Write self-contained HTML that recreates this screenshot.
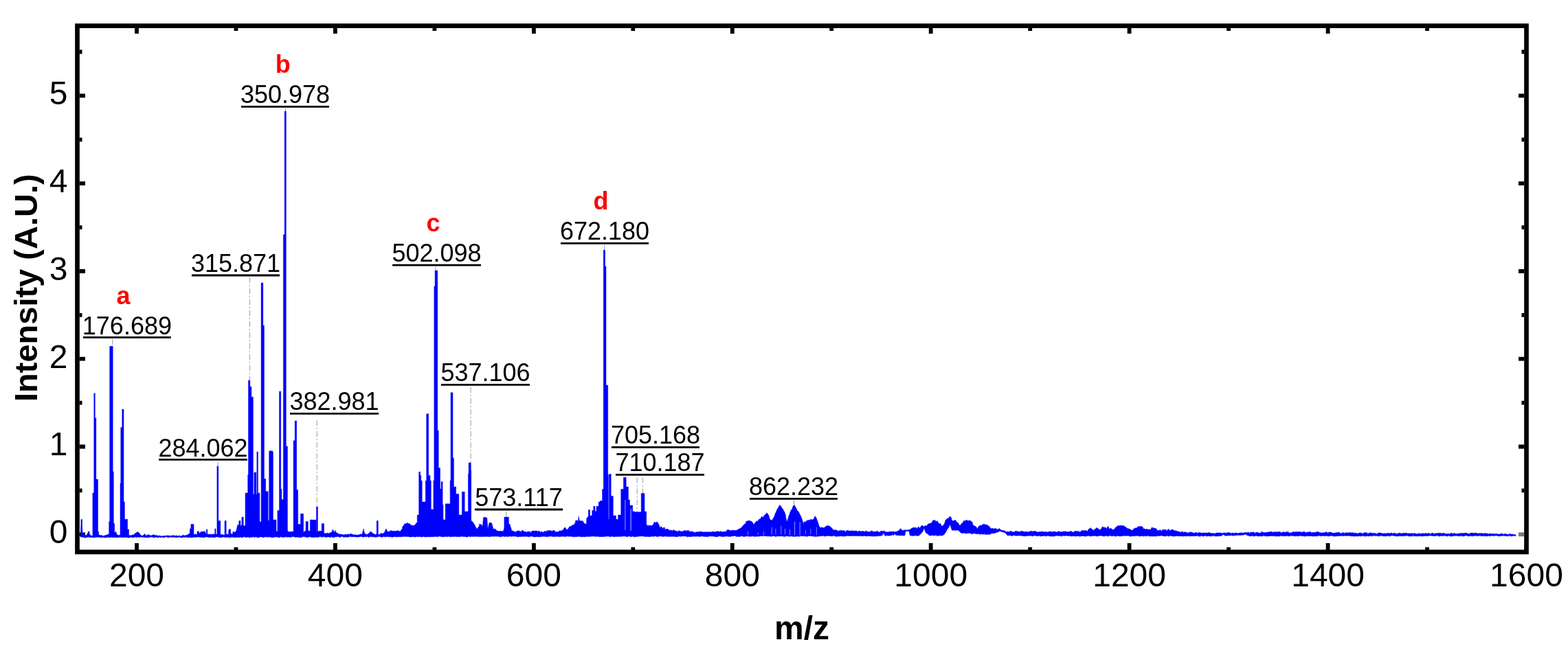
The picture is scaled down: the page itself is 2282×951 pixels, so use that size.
<!DOCTYPE html>
<html><head><meta charset="utf-8"><style>html,body{margin:0;padding:0;background:#fff;overflow:hidden}svg{display:block}text{font-family:"Liberation Sans",sans-serif}</style></head>
<body><svg width="2282" height="951" viewBox="0 0 2282 951">
<rect width="2282" height="951" fill="#fff"/>
<rect x="112.5" y="37.6" width="2109" height="766.3" fill="none" stroke="#000" stroke-width="6.7"/>
<path d="M199.0 801V791M199.0 41V49M343.5 801V797M343.5 41V45M487.9 801V791M487.9 41V49M632.4 801V797M632.4 41V45M776.9 801V791M776.9 41V49M921.3 801V797M921.3 41V45M1065.8 801V791M1065.8 41V49M1210.2 801V797M1210.2 41V45M1354.7 801V791M1354.7 41V49M1499.2 801V797M1499.2 41V45M1643.6 801V791M1643.6 41V49M1788.1 801V797M1788.1 41V45M1932.6 801V791M1932.6 41V49M2077.0 801V797M2077.0 41V45M116 778.3H124M116 714.4H119.5M2218 714.4H2214.5M116 650.5H124M2218 650.5H2210M116 586.6H119.5M2218 586.6H2214.5M116 522.7H124M2218 522.7H2210M116 458.8H119.5M2218 458.8H2214.5M116 395.0H124M2218 395.0H2210M116 331.1H119.5M2218 331.1H2214.5M116 267.2H124M2218 267.2H2210M116 203.3H119.5M2218 203.3H2214.5M116 139.4H124M2218 139.4H2210M116 75.5H119.5M2218 75.5H2214.5" stroke="#000" stroke-width="5.8" fill="none"/>
<path d="M117.5,770.3 117.9,764.9 117.9,756.5 119.6,756.5 119.6,766.7 120.2,777.6 122.5,779.8 123.5,780.0 123.6,779.3 126.0,779.8 127.5,776.4 127.6,777.0 128.2,776.1 128.2,774.0 130.0,774.0 130.0,775.9 131.0,778.9 131.5,779.0 131.6,780.0 134.9,780.3 134.9,718.0 136.8,718.0 136.8,572.7 138.3,572.7 138.3,608.7 139.8,608.7 139.8,698.0 142.5,698.0 142.5,774.0 143.6,774.0 143.6,778.9 149.5,780.0 149.6,780.5 151.5,780.3 151.6,780.0 153.5,779.7 153.6,779.4 155.0,779.1 155.5,778.8 155.6,779.2 156.7,778.5 157.5,778.8 157.6,777.8 158.3,778.1 158.7,778.0 158.7,759.4 159.7,759.4 159.7,504.3 164.2,504.3 164.2,687.0 165.3,687.0 165.3,762.6 166.7,762.6 166.7,775.5 167.5,775.3 167.7,776.0 168.5,774.0 170.4,779.0 171.5,779.0 171.6,779.5 173.5,779.5 173.6,779.2 175.0,779.2 175.0,703.7 175.8,703.7 175.8,622.6 177.8,622.6 177.8,596.1 180.0,596.1 180.0,731.0 181.4,731.0 181.4,756.3 185.6,756.3 185.6,771.0 187.5,771.0 187.5,779.6 191.5,779.8 191.6,779.4 192.0,779.4 193.5,778.5 193.6,779.4 195.5,778.3 195.6,777.4 197.6,776.2 199.5,774.7 199.6,775.6 200.9,774.7 201.5,775.4 201.6,774.9 203.5,777.4 203.6,778.0 204.0,778.5 206.7,780.5 209.5,779.1 209.6,778.2 210.9,777.5 211.5,778.2 211.6,778.8 213.0,780.3 215.5,778.5 215.6,778.8 216.1,778.5 217.5,779.6 217.6,779.0 219.0,780.1 221.5,779.8 221.6,779.2 223.5,778.7 223.6,779.1 224.5,778.9 227.5,779.9 227.6,779.7 229.5,779.8 229.6,780.6 231.5,780.4 231.6,779.9 233.5,780.1 233.6,780.8 234.6,781.0 235.5,781.0 235.6,780.4 237.6,780.6 239.5,780.4 239.6,780.2 243.5,780.2 243.6,779.7 245.5,779.9 245.6,780.3 247.5,780.5 247.6,780.2 251.5,780.1 251.6,779.8 253.5,779.6 253.5,780.6 255.5,780.7 255.6,779.8 257.5,780.0 257.6,780.6 259.5,780.8 259.6,780.1 261.5,780.1 261.6,780.7 263.5,780.7 263.6,780.4 265.5,780.2 265.6,779.6 267.5,779.3 267.6,780.1 270.0,779.8 273.5,778.8 273.6,778.3 275.5,777.3 275.6,776.7 276.4,776.6 276.4,770.0 277.9,770.0 277.9,763.6 282.0,763.6 282.0,778.2 283.5,778.4 283.6,777.9 285.5,777.9 285.6,778.8 286.9,778.7 286.9,774.0 289.7,774.0 289.8,777.2 291.5,775.6 291.6,775.2 292.5,774.3 295.5,774.3 295.6,774.0 297.5,774.0 297.6,773.7 298.0,773.7 299.5,776.9 299.5,778.0 300.2,778.1 300.2,771.0 301.8,771.0 301.8,777.9 305.5,778.2 305.6,777.9 307.5,778.0 307.6,778.6 309.5,778.7 309.6,777.8 311.5,777.9 311.6,778.3 312.7,778.3 312.7,770.0 314.0,770.0 314.0,777.9 315.9,777.9 315.9,678.9 317.8,678.9 317.8,758.4 320.8,758.4 320.8,778.5 321.5,778.5 321.6,778.2 323.5,778.5 325.5,778.9 325.6,779.3 327.0,779.3 327.0,758.4 329.2,758.4 329.2,778.1 329.5,778.1 329.6,778.3 330.5,778.1 332.5,778.2 332.9,771.4 333.5,771.4 333.6,770.7 335.5,770.7 335.9,777.5 337.5,777.5 337.6,777.9 338.5,777.9 339.0,774.2 339.5,774.2 339.6,774.5 340.8,774.5 341.5,776.6 341.5,775.4 343.5,773.4 343.6,774.3 345.2,767.0 345.5,767.0 345.5,764.7 347.5,764.3 347.5,766.1 347.8,766.1 347.8,758.4 350.0,758.4 350.0,765.8 351.5,765.7 351.5,764.1 351.9,764.1 351.9,753.1 354.2,753.1 354.2,765.3 355.5,765.5 355.6,765.7 357.0,765.7 357.0,718.0 360.7,718.0 360.7,691.5 361.5,691.5 361.5,553.9 363.8,553.9 363.8,563.1 365.9,563.1 365.9,578.2 368.4,578.2 368.4,720.0 369.9,720.0 369.9,688.0 372.8,688.0 372.9,768.4 372.9,720.0 373.9,720.0 373.9,658.0 375.4,658.0 375.4,718.0 377.9,718.0 377.9,760.0 380.1,760.0 380.1,412.0 382.8,412.0 382.8,474.0 384.4,474.0 384.4,697.3 386.7,697.3 386.7,715.8 390.2,715.8 390.2,758.0 391.6,758.0 391.7,771.9 391.7,656.8 396.6,656.8 396.6,658.0 397.4,658.0 397.4,757.0 402.0,757.0 402.0,773.5 403.5,773.8 403.6,774.6 403.9,774.7 403.9,743.6 406.5,743.6 406.5,570.0 408.7,570.0 408.7,712.3 409.9,712.3 409.9,727.4 412.4,727.4 412.4,341.8 414.2,341.8 414.2,162.0 416.3,162.0 416.3,649.9 418.4,649.9 418.4,773.6 419.5,773.6 419.6,774.6 427.1,774.2 427.1,641.8 429.2,641.8 429.2,612.9 431.7,612.9 431.7,713.5 433.6,713.5 433.6,763.6 437.3,763.6 437.3,773.2 437.5,773.2 437.5,748.2 441.6,748.2 441.6,774.6 443.5,774.6 443.5,773.3 445.1,773.3 445.1,759.4 448.3,759.4 448.3,773.0 451.4,773.2 451.4,757.0 460.0,757.3 460.0,774.0 460.5,774.0 460.5,737.9 462.4,737.9 462.4,774.2 463.5,774.2 463.6,773.4 465.5,773.4 465.6,773.2 467.5,773.2 467.6,773.8 468.2,774.0 468.2,762.6 471.5,762.6 471.5,776.5 473.5,776.8 475.5,777.1 475.6,776.2 477.0,776.4 477.5,776.2 477.6,777.3 483.0,774.7 484.5,771.1 485.5,772.8 485.6,773.7 486.2,774.7 487.5,773.8 487.6,772.3 489.3,775.3 492.5,777.4 493.5,777.5 493.6,777.8 499.5,778.6 499.6,779.0 500.0,779.1 501.5,778.9 501.6,778.3 503.5,778.1 503.6,778.8 505.5,778.6 505.6,778.0 507.5,777.8 507.6,778.5 509.5,778.3 509.6,777.4 510.0,777.4 511.5,777.5 511.6,777.9 513.5,778.1 513.6,778.9 515.5,779.1 515.6,778.6 517.5,778.8 517.6,779.1 519.5,779.3 519.6,779.2 523.5,778.6 523.6,778.1 525.5,777.8 525.6,778.3 527.0,778.1 527.5,776.6 527.5,775.5 529.3,770.0 529.5,770.8 529.5,772.7 531.0,777.4 531.5,777.5 531.6,777.8 535.5,778.4 535.5,777.3 536.0,777.4 537.5,775.7 537.6,776.1 539.8,773.7 541.5,776.0 541.6,775.9 542.0,776.4 543.5,776.8 543.6,777.6 545.5,778.0 546.0,778.4 547.5,778.4 547.6,777.8 548.2,777.8 548.2,758.4 550.3,758.4 550.3,778.5 551.0,778.5 553.5,777.9 553.6,777.0 555.5,776.6 555.6,777.5 559.5,775.9 559.5,774.7 560.0,774.5 561.5,770.6 561.6,771.2 562.0,770.2 564.0,774.2 566.0,774.2 567.5,773.8 567.6,772.9 569.5,772.4 569.5,773.4 573.5,773.3 573.6,773.6 577.5,773.6 577.6,772.7 579.5,772.7 579.6,773.4 581.5,773.4 581.6,773.7 582.6,773.7 585.5,769.7 585.5,767.8 589.5,762.1 589.6,763.5 590.0,763.0 591.5,762.8 591.5,761.8 593.5,761.6 593.6,762.4 595.5,762.2 595.6,763.1 596.3,763.1 597.5,764.7 597.6,763.5 599.0,765.4 599.5,765.4 599.6,765.1 601.5,765.1 601.6,765.6 602.6,765.6 603.5,764.4 603.6,764.8 605.0,763.0 605.5,763.0 605.5,761.6 607.2,761.6 607.2,750.0 609.7,750.0 609.7,687.2 611.6,687.2 611.6,692.4 612.7,692.4 612.7,700.0 614.2,700.0 614.2,731.0 619.3,731.0 619.3,700.0 620.7,700.0 620.7,602.7 623.7,602.7 623.7,692.4 626.0,692.4 626.0,700.0 627.3,700.0 627.3,742.0 630.9,742.0 630.9,700.0 631.9,700.0 631.9,417.0 633.1,417.0 633.1,394.1 636.8,394.1 636.8,627.0 638.2,627.0 638.2,681.4 640.5,681.4 640.5,712.0 642.1,712.0 642.1,701.6 644.1,701.6 644.1,735.0 645.0,735.0 645.0,757.0 648.2,757.0 648.2,733.8 655.1,733.8 655.1,700.0 656.0,700.0 656.0,571.8 659.0,571.8 659.0,667.0 660.4,667.0 660.4,709.0 663.6,709.0 663.6,719.4 667.8,719.4 667.8,750.0 672.4,750.0 672.4,716.3 676.2,716.3 676.2,745.0 681.4,745.0 681.4,690.0 682.1,690.0 682.1,673.9 685.3,673.9 685.3,684.9 685.7,684.9 685.7,757.8 687.5,760.5 687.6,759.4 691.5,765.6 691.6,766.4 693.5,769.2 693.6,769.9 694.1,770.6 697.5,765.7 697.5,763.7 698.0,763.1 701.5,764.6 701.5,766.1 702.5,766.4 703.5,753.4 707.5,753.6 707.6,754.3 708.8,754.3 709.9,771.0 712.0,761.3 715.1,761.2 715.5,762.5 715.6,761.9 718.0,770.3 719.5,771.0 719.6,770.0 721.5,770.8 721.5,772.1 725.0,773.5 727.5,773.8 727.6,773.3 732.0,773.9 733.5,770.8 733.5,769.8 733.9,769.1 733.9,753.1 740.4,753.1 740.4,763.6 742.5,763.6 742.5,765.4 745.0,773.4 745.5,773.5 745.6,772.9 747.5,773.3 747.6,774.1 750.0,774.8 751.5,774.6 751.6,773.6 753.5,773.4 753.6,773.0 755.5,772.8 755.5,773.9 757.5,773.7 757.6,774.2 759.5,774.0 759.5,772.4 760.0,772.3 761.5,772.6 761.5,773.7 767.5,775.2 767.5,773.9 770.0,774.3 771.5,774.0 771.6,775.5 773.5,775.2 773.5,773.6 777.5,772.9 777.6,773.6 779.5,773.2 779.6,773.0 780.0,772.9 781.5,773.2 781.6,773.8 783.5,774.2 783.5,773.2 785.5,773.5 785.5,774.9 787.5,775.2 787.5,774.0 789.5,774.4 789.6,775.4 790.0,775.5 791.5,775.2 791.5,773.9 793.5,773.5 793.6,774.2 795.5,773.9 795.6,773.0 797.5,772.6 797.6,773.1 800.0,772.6 801.5,772.6 801.6,773.4 803.5,773.4 803.6,772.9 805.5,773.0 805.6,772.3 807.5,772.7 807.5,774.4 809.5,774.8 809.6,774.6 813.5,774.4 813.5,773.1 817.5,772.9 817.6,772.6 818.7,772.5 822.0,767.9 823.5,769.1 823.5,770.2 825.5,771.6 825.6,770.9 826.0,771.2 829.5,766.0 829.6,767.5 830.0,766.9 831.5,766.5 831.6,765.6 833.5,765.1 833.6,764.4 835.5,763.9 835.6,764.9 837.5,760.1 837.5,758.8 838.0,757.8 839.5,757.8 839.6,758.5 841.5,758.5 841.5,757.2 842.3,752.1 843.2,757.9 843.5,757.9 843.6,758.4 845.5,758.4 845.6,758.7 847.5,758.7 847.6,758.5 848.1,758.5 850.0,762.3 851.5,762.3 851.6,763.3 853.4,763.3 853.9,754.0 855.5,754.0 855.5,752.3 856.4,752.3 856.4,742.6 858.6,742.6 858.6,751.0 861.7,751.0 861.7,743.6 863.8,743.6 863.8,737.3 866.0,737.3 866.0,744.7 868.0,744.7 868.0,737.3 871.2,737.3 871.2,731.0 873.5,731.0 873.5,729.3 875.7,729.3 875.8,730.0 876.6,730.0 876.6,712.5 878.3,712.5 878.3,364.2 880.6,364.2 880.6,388.0 882.0,388.0 882.0,561.0 884.7,561.0 884.7,691.4 885.4,691.4 885.6,756.1 886.5,756.2 886.5,690.4 889.2,690.4 889.2,722.6 892.3,722.6 892.3,751.0 896.5,751.0 896.5,756.3 899.6,756.3 899.6,750.0 903.8,750.0 903.8,712.5 907.4,712.5 907.4,695.3 911.2,695.3 911.2,709.0 914.4,709.0 914.4,727.9 916.5,727.9 916.5,736.0 920.7,736.0 920.7,745.0 923.8,745.0 923.9,745.7 933.2,745.7 933.2,718.4 938.0,718.4 938.0,745.0 940.7,745.0 940.7,764.0 941.5,764.3 941.6,765.1 943.5,766.0 943.5,764.9 945.0,765.5 947.5,765.1 947.6,765.7 949.1,765.5 949.5,764.9 949.6,765.1 951.5,762.5 951.5,761.2 952.0,760.6 953.5,760.4 953.6,761.2 955.5,761.0 955.6,759.9 957.5,761.0 957.6,761.9 958.0,762.1 960.7,768.4 961.5,768.7 961.6,767.0 963.5,767.5 963.5,769.2 965.0,769.5 965.5,769.7 965.5,768.0 967.5,768.5 967.5,770.7 969.5,771.2 969.6,770.1 973.5,771.3 973.6,772.0 975.0,772.4 975.5,772.5 975.6,772.1 977.5,772.3 977.6,772.8 979.5,773.0 979.5,771.7 981.5,771.9 981.6,772.9 985.5,773.4 985.6,774.1 987.5,774.4 987.5,772.8 989.5,773.1 989.6,773.9 991.5,773.8 991.6,774.1 995.5,773.5 995.6,772.6 997.5,772.4 997.6,773.4 999.5,773.2 999.6,772.5 1000.0,772.5 1003.5,773.1 1003.5,774.4 1005.5,774.8 1005.6,773.6 1007.5,774.0 1007.6,774.4 1009.5,774.8 1009.6,775.3 1010.0,775.4 1015.5,774.5 1015.6,775.0 1017.5,774.8 1017.6,774.2 1019.5,774.0 1019.6,774.3 1021.5,774.4 1021.6,774.7 1023.5,774.9 1023.6,774.7 1027.5,775.0 1027.6,774.6 1029.5,774.8 1029.6,775.1 1030.0,775.1 1033.5,774.6 1033.6,775.2 1035.5,775.1 1035.6,774.4 1037.5,774.3 1039.5,774.3 1039.6,774.8 1041.5,774.7 1041.6,774.2 1043.5,774.1 1043.6,773.8 1045.0,773.7 1045.5,773.7 1045.6,774.6 1047.5,774.6 1047.6,773.8 1049.5,773.8 1049.6,774.7 1053.5,774.6 1053.6,774.0 1055.5,774.0 1055.6,774.5 1055.8,774.5 1057.5,773.7 1057.5,772.3 1059.5,771.3 1059.6,772.0 1060.0,771.8 1061.5,771.8 1061.6,772.7 1063.5,772.7 1063.6,772.2 1071.5,772.4 1073.5,771.6 1073.6,771.2 1075.5,770.6 1075.6,770.0 1077.5,769.4 1077.6,769.6 1077.9,769.5 1083.5,762.9 1083.6,764.1 1085.5,761.6 1085.5,760.0 1086.3,759.0 1087.5,758.8 1087.6,759.0 1090.0,758.2 1091.5,758.3 1091.6,758.8 1093.5,759.0 1093.6,759.9 1094.7,760.0 1097.3,764.5 1097.5,764.3 1097.5,763.0 1101.0,758.8 1101.5,758.4 1101.6,759.8 1103.5,758.3 1103.5,757.3 1105.5,755.8 1105.6,756.2 1107.5,754.8 1107.5,753.3 1109.5,752.0 1109.5,753.9 1111.5,752.6 1111.5,751.2 1112.6,750.6 1113.5,749.5 1113.6,749.8 1115.5,747.5 1115.7,746.6 1117.5,748.4 1117.6,749.0 1118.4,749.8 1119.5,752.5 1119.5,753.7 1121.0,757.1 1123.5,757.9 1123.6,757.1 1124.1,757.2 1125.5,754.2 1125.6,754.7 1127.5,750.5 1127.6,749.5 1131.5,740.8 1131.6,741.0 1133.5,738.1 1133.6,737.1 1134.7,735.6 1137.5,738.2 1137.5,739.2 1139.9,742.1 1141.5,746.4 1141.6,745.0 1143.5,750.7 1143.5,752.8 1145.2,760.0 1147.5,753.4 1147.5,752.3 1149.5,748.0 1149.5,746.8 1151.5,742.5 1151.6,743.8 1153.5,739.6 1153.5,738.3 1154.0,737.4 1155.5,735.5 1155.6,736.3 1156.2,735.5 1157.5,738.3 1157.6,737.9 1159.5,741.5 1159.9,742.9 1161.5,745.2 1161.6,744.4 1163.5,747.4 1163.6,748.1 1166.2,753.2 1169.4,762.9 1169.5,761.6 1171.5,759.0 1171.6,760.7 1172.0,760.1 1173.5,759.9 1173.5,758.2 1179.5,757.0 1179.6,756.5 1180.0,756.5 1181.5,756.4 1181.6,757.2 1183.0,757.1 1183.5,756.0 1183.6,756.7 1186.2,751.5 1187.5,754.4 1187.5,753.4 1188.0,754.3 1189.6,758.4 1192.5,767.4 1193.5,767.4 1193.5,768.5 1195.5,768.6 1195.6,767.9 1197.5,767.9 1197.5,768.9 1199.5,768.8 1199.6,768.2 1199.9,768.2 1202.0,766.3 1203.5,765.7 1203.6,766.1 1205.6,765.3 1207.5,767.1 1207.6,766.3 1209.6,768.0 1211.5,770.0 1211.6,770.5 1212.5,771.4 1215.5,772.2 1215.6,771.5 1217.5,772.0 1217.6,772.6 1219.5,772.9 1219.6,773.3 1221.5,773.4 1221.6,772.4 1229.5,772.9 1229.5,774.2 1231.5,774.3 1231.6,772.5 1233.5,772.6 1233.6,772.9 1237.5,773.0 1237.6,773.6 1239.5,773.6 1239.6,772.8 1241.5,772.8 1241.6,773.6 1243.5,773.6 1243.6,773.1 1247.5,773.3 1247.6,774.3 1249.5,774.3 1249.5,773.2 1251.5,773.2 1251.6,774.0 1253.5,774.0 1253.6,773.6 1257.5,773.7 1257.6,774.4 1259.5,774.4 1259.5,773.2 1261.5,773.2 1261.5,774.6 1265.5,774.6 1265.6,774.2 1267.5,774.2 1267.5,773.1 1269.5,773.1 1269.5,774.2 1273.5,774.1 1273.6,774.4 1275.5,774.5 1275.5,773.5 1277.5,773.5 1277.5,774.8 1279.5,774.8 1281.5,774.7 1281.5,773.3 1283.5,773.3 1283.6,773.7 1285.5,773.7 1285.6,773.2 1287.5,773.2 1287.5,774.6 1293.5,774.9 1293.6,774.2 1299.5,774.3 1299.6,774.1 1301.5,774.1 1301.6,774.8 1303.5,774.8 1303.6,774.2 1305.5,774.2 1305.6,773.7 1306.3,773.7 1307.5,772.7 1307.6,773.0 1309.5,771.4 1309.5,770.3 1310.0,770.0 1311.5,770.3 1311.5,771.8 1314.7,772.4 1315.5,772.4 1315.6,771.8 1317.5,771.8 1317.6,772.7 1317.8,772.7 1318.0,771.9 1323.5,771.7 1323.6,771.1 1324.2,771.1 1329.4,768.1 1329.6,768.4 1331.5,768.2 1331.6,768.5 1333.5,768.3 1333.6,769.4 1335.5,769.2 1335.5,767.7 1337.5,767.4 1337.5,768.9 1338.9,768.8 1339.5,768.0 1339.6,767.4 1341.5,765.1 1341.6,765.4 1342.0,764.9 1343.5,766.7 1343.6,765.7 1345.2,767.6 1345.5,767.3 1345.5,766.3 1347.5,764.9 1347.5,766.7 1349.5,765.3 1349.5,764.0 1351.5,763.0 1351.6,762.7 1353.5,761.8 1353.6,763.3 1357.5,759.1 1357.5,757.9 1357.8,757.7 1361.5,757.8 1361.5,759.5 1363.1,759.5 1363.5,759.9 1363.6,758.3 1365.5,760.2 1365.5,761.4 1367.3,763.1 1367.5,763.2 1367.6,761.9 1369.5,763.5 1369.5,765.2 1371.5,766.7 1371.5,765.1 1372.6,765.9 1373.5,763.7 1373.6,764.5 1375.5,759.9 1375.5,758.5 1377.5,755.8 1377.6,756.9 1379.5,754.3 1379.6,754.8 1379.9,754.4 1381.5,754.4 1381.5,752.6 1383.5,752.6 1383.6,753.1 1384.1,753.1 1385.2,757.3 1385.5,757.3 1385.5,758.4 1387.5,758.4 1387.6,758.1 1389.5,758.1 1389.6,757.4 1390.4,757.4 1391.5,758.5 1391.6,759.3 1393.5,761.2 1393.6,760.9 1395.5,762.8 1395.5,763.9 1397.5,765.8 1397.5,764.5 1397.8,764.7 1399.5,762.3 1399.6,763.3 1403.0,758.1 1403.5,758.1 1403.6,758.4 1405.5,758.4 1405.6,757.5 1407.5,757.5 1407.6,758.3 1411.5,758.3 1411.6,757.6 1413.5,759.8 1413.6,759.1 1415.5,761.2 1415.5,763.6 1417.5,765.7 1417.6,765.2 1419.5,767.2 1419.6,766.1 1421.5,768.2 1421.5,769.5 1422.0,769.9 1423.5,768.6 1423.5,767.4 1425.5,765.7 1425.6,766.1 1427.5,764.5 1427.6,765.5 1429.5,765.0 1429.5,763.9 1431.5,763.5 1431.6,763.2 1435.5,764.4 1435.6,763.9 1437.5,764.9 1437.6,765.3 1439.9,766.8 1442.0,769.8 1445.5,769.4 1445.6,770.3 1447.5,770.2 1447.6,769.6 1449.5,769.5 1449.5,770.7 1451.5,770.6 1451.6,771.0 1453.5,771.0 1453.6,769.5 1455.5,770.5 1455.6,771.2 1457.5,772.1 1459.5,772.9 1459.6,772.1 1463.0,773.4 1463.5,773.4 1463.7,774.8 1465.5,774.8 1465.6,774.1 1467.5,774.1 1467.6,774.7 1469.5,774.7 1469.6,773.4 1471.5,773.4 1471.6,774.3 1473.5,774.3 1473.6,774.8 1477.5,774.8 1477.6,773.3 1479.5,773.3 1479.6,774.2 1483.5,774.0 1483.6,774.7 1485.5,774.7 1485.5,773.5 1487.5,773.5 1487.6,773.8 1489.5,773.8 1489.6,774.8 1491.5,774.8 1491.6,774.2 1495.5,774.2 1495.6,775.1 1497.5,775.1 1497.5,774.0 1499.5,774.0 1499.6,773.5 1501.5,773.5 1501.6,774.1 1503.5,774.1 1503.6,773.7 1507.5,773.6 1507.6,774.5 1509.5,774.5 1509.6,775.1 1511.5,775.2 1511.6,774.5 1515.5,774.6 1515.6,774.1 1517.5,774.1 1517.6,774.5 1519.5,774.5 1519.6,774.8 1523.5,774.6 1523.6,775.0 1525.5,775.0 1525.6,774.5 1527.5,774.6 1527.6,773.9 1529.5,774.0 1529.6,774.6 1531.5,774.6 1531.6,774.5 1533.5,774.5 1533.6,773.9 1535.5,773.9 1535.6,774.7 1537.5,774.7 1537.6,775.0 1539.5,775.0 1539.5,773.8 1541.5,773.8 1541.6,774.5 1543.5,774.5 1543.6,774.8 1545.5,774.8 1545.6,774.2 1547.5,774.2 1547.6,774.0 1551.5,774.1 1551.6,774.4 1555.5,774.6 1555.6,774.4 1557.5,774.4 1557.6,773.6 1559.5,773.6 1559.5,774.8 1563.5,775.0 1563.5,773.5 1567.3,773.8 1569.5,773.4 1569.5,774.6 1571.6,774.5 1573.5,774.3 1573.5,772.7 1575.5,772.5 1575.6,773.0 1579.5,772.4 1579.6,772.9 1581.5,772.7 1581.6,773.6 1583.1,773.4 1583.5,773.1 1583.5,771.4 1587.3,768.6 1587.6,769.6 1591.0,772.0 1591.5,771.8 1591.6,772.2 1593.5,771.2 1593.6,770.4 1595.5,769.4 1595.7,768.6 1597.5,769.3 1597.6,769.8 1599.5,770.5 1599.5,771.9 1600.0,772.0 1601.5,771.2 1601.6,770.6 1603.5,769.5 1603.5,767.9 1605.5,766.8 1605.5,768.4 1606.2,768.0 1607.5,768.8 1607.6,767.7 1609.0,768.5 1609.5,768.4 1609.6,769.5 1611.5,768.9 1611.5,767.0 1612.6,766.7 1613.5,767.3 1613.5,769.4 1615.5,770.6 1615.6,769.0 1617.5,769.8 1617.6,770.5 1619.5,771.2 1619.6,771.7 1620.0,771.8 1623.5,769.0 1623.6,768.1 1627.3,765.4 1627.5,765.4 1627.6,765.8 1629.5,765.8 1629.6,765.2 1631.5,765.2 1631.6,765.6 1635.5,765.4 1635.6,766.2 1639.5,768.3 1639.6,769.0 1641.5,770.1 1641.6,769.4 1643.5,770.6 1643.6,770.1 1645.5,771.3 1645.6,771.9 1646.2,772.3 1647.5,771.6 1647.6,772.4 1649.5,771.4 1649.5,770.3 1651.5,769.2 1651.6,769.5 1653.5,768.5 1653.6,769.3 1655.5,768.2 1655.6,767.3 1657.5,766.3 1657.6,767.4 1659.9,766.2 1661.5,767.7 1661.6,766.3 1663.5,768.1 1663.5,769.2 1665.5,770.7 1665.6,769.7 1667.2,771.0 1667.6,770.7 1669.5,770.5 1669.6,771.1 1671.5,770.9 1671.6,771.3 1673.5,770.7 1673.6,771.4 1675.5,770.7 1675.5,768.8 1677.5,768.0 1677.5,769.4 1678.8,768.9 1679.5,769.3 1679.6,768.8 1681.5,770.0 1681.6,769.3 1683.5,770.4 1683.5,772.2 1685.5,772.7 1685.6,772.2 1687.5,772.7 1687.5,771.6 1688.3,771.9 1689.5,771.8 1689.5,773.3 1691.5,773.2 1691.5,771.6 1695.5,771.3 1695.6,771.7 1697.5,771.6 1697.6,772.8 1699.5,772.7 1699.5,770.8 1701.5,770.7 1701.5,772.5 1703.5,772.4 1703.6,771.8 1705.5,772.0 1705.6,770.9 1707.5,771.3 1707.5,772.4 1711.5,772.9 1711.6,773.2 1713.5,773.5 1713.6,773.9 1717.5,774.6 1717.6,775.1 1719.5,775.5 1719.6,774.1 1721.5,774.2 1721.5,775.3 1723.5,775.4 1723.6,774.7 1725.5,774.8 1725.6,775.4 1731.5,776.0 1731.5,774.8 1733.5,774.9 1733.6,775.2 1735.5,775.3 1735.6,776.1 1739.5,776.3 1739.6,775.4 1741.5,775.5 1741.6,776.4 1743.5,776.5 1743.6,775.6 1747.5,775.7 1747.6,776.3 1749.5,776.4 1749.6,776.0 1757.5,776.3 1757.6,775.8 1761.5,775.8 1761.5,776.9 1765.5,776.6 1765.6,776.8 1767.5,776.8 1767.6,777.0 1769.5,777.0 1769.6,776.1 1777.5,776.1 1777.6,776.8 1779.5,776.7 1779.6,776.2 1781.6,776.0 1783.5,775.9 1783.6,776.4 1785.5,776.4 1785.6,775.7 1789.5,775.4 1789.6,776.3 1793.5,776.7 1793.6,776.0 1795.5,776.1 1795.6,776.7 1797.5,776.8 1797.6,775.9 1799.5,776.1 1799.6,776.6 1801.5,776.5 1801.6,776.8 1803.5,776.6 1803.6,776.1 1805.5,775.9 1807.5,775.8 1807.6,776.2 1811.5,775.9 1811.6,775.2 1813.5,775.2 1813.6,776.1 1815.5,776.0 1815.5,775.0 1817.5,775.0 1817.5,776.4 1819.5,776.4 1819.5,775.2 1825.5,775.1 1825.5,776.4 1827.5,776.3 1827.5,775.2 1829.5,775.2 1829.6,775.7 1831.5,775.6 1831.6,776.3 1833.5,776.2 1835.5,776.1 1835.5,774.7 1837.5,774.6 1837.6,775.4 1843.5,775.6 1843.6,775.0 1847.5,774.9 1847.6,774.4 1849.0,774.4 1851.5,774.4 1851.6,775.3 1853.5,775.3 1853.6,774.5 1859.5,774.9 1859.6,774.5 1863.5,774.4 1863.5,775.9 1865.5,775.9 1865.6,775.1 1867.5,775.1 1867.6,774.7 1869.5,774.7 1869.6,775.5 1871.5,775.5 1871.5,774.4 1873.5,774.4 1873.6,774.8 1875.5,774.8 1875.5,776.0 1879.5,775.9 1879.6,775.4 1881.5,775.4 1881.6,774.5 1883.5,774.5 1883.6,774.9 1885.5,774.9 1885.6,774.4 1887.5,774.4 1887.6,774.7 1889.5,774.7 1889.6,774.4 1891.5,774.4 1891.6,774.6 1893.5,774.6 1893.6,775.4 1895.5,775.4 1895.6,774.5 1897.5,774.5 1899.5,774.6 1899.5,775.9 1901.5,775.9 1901.6,774.9 1905.5,774.9 1905.6,774.5 1907.5,774.5 1907.5,775.7 1911.5,775.5 1911.6,775.3 1915.5,775.4 1915.6,774.5 1917.5,774.5 1917.6,774.8 1919.5,774.8 1919.6,775.4 1921.5,775.4 1921.6,776.0 1925.5,775.9 1925.6,775.6 1927.5,775.7 1927.6,775.5 1929.5,775.5 1929.6,774.7 1931.5,774.8 1931.5,776.2 1933.5,776.2 1933.5,774.9 1937.5,775.1 1937.6,776.0 1941.5,776.3 1943.5,776.3 1943.6,775.8 1945.5,775.8 1945.6,775.4 1949.5,775.3 1949.5,776.5 1951.5,776.6 1951.6,776.8 1953.5,776.8 1953.5,775.6 1955.5,775.7 1955.6,776.6 1957.5,776.6 1957.6,775.9 1961.5,775.8 1961.6,776.1 1963.5,776.1 1963.6,775.4 1965.5,775.4 1965.6,776.1 1967.5,776.1 1967.6,775.7 1969.5,775.7 1969.6,776.5 1971.5,776.5 1971.6,776.2 1973.5,776.2 1973.6,776.8 1977.5,776.9 1977.6,776.0 1981.5,776.0 1981.5,777.0 1983.5,777.0 1983.6,776.3 1985.5,776.4 1985.6,775.7 1989.5,775.7 1989.5,777.1 1991.5,777.2 1991.6,776.5 1993.5,776.6 1993.6,775.8 1995.5,775.8 1995.6,776.5 2001.5,776.4 2001.6,777.2 2003.5,777.2 2005.5,777.2 2005.5,776.0 2009.5,776.1 2009.6,776.5 2011.5,776.5 2011.6,777.1 2013.5,777.1 2013.6,776.8 2017.5,777.0 2017.6,776.8 2019.5,776.8 2019.6,776.3 2021.5,776.3 2021.6,777.2 2023.5,777.2 2023.5,776.0 2025.5,776.0 2025.5,777.0 2027.5,777.1 2027.6,776.3 2029.5,776.3 2029.6,776.8 2031.5,776.8 2031.6,777.5 2033.5,777.5 2033.6,776.9 2035.5,776.9 2035.6,776.2 2037.5,776.2 2037.6,776.8 2039.5,776.8 2039.6,777.1 2041.5,777.1 2041.6,776.3 2045.5,776.6 2045.6,776.3 2047.5,776.3 2047.6,777.0 2049.5,777.1 2049.6,776.8 2053.5,777.0 2053.6,776.7 2055.5,776.7 2055.6,777.2 2057.5,777.2 2057.6,776.5 2059.5,776.5 2059.5,777.5 2061.6,777.6 2063.5,777.6 2063.6,776.9 2065.6,776.9 2067.5,776.9 2067.6,777.5 2069.5,777.4 2069.6,776.6 2071.5,776.6 2071.6,777.4 2073.5,777.3 2073.6,776.6 2075.5,776.6 2075.6,777.2 2077.5,777.2 2077.6,776.6 2079.5,776.6 2079.6,777.0 2081.5,777.0 2081.6,777.5 2083.5,777.5 2083.5,776.2 2085.5,776.2 2085.5,777.3 2087.5,777.3 2087.6,776.9 2089.5,776.9 2089.6,776.7 2093.5,776.6 2093.6,776.2 2097.5,776.5 2097.6,777.0 2099.5,777.0 2099.6,776.2 2101.5,776.2 2101.6,777.0 2103.5,777.0 2103.6,777.5 2105.6,777.5 2111.5,777.2 2111.6,776.3 2113.5,776.3 2113.5,777.5 2115.5,777.5 2115.5,776.4 2117.5,776.4 2117.6,777.3 2121.5,777.4 2121.6,777.0 2125.5,776.8 2125.6,776.4 2127.5,776.4 2127.6,776.8 2129.5,776.8 2129.6,776.5 2131.5,776.5 2131.6,776.3 2135.5,776.3 2135.6,777.2 2139.5,777.4 2139.5,776.3 2143.5,776.1 2143.6,776.5 2145.5,776.5 2145.6,776.3 2149.5,776.3 2149.6,776.9 2151.5,777.0 2151.6,776.7 2155.5,776.8 2155.6,776.5 2157.5,776.6 2157.6,777.2 2159.5,777.3 2159.6,776.7 2161.5,776.8 2165.5,777.1 2165.6,777.8 2167.5,777.8 2167.6,776.9 2169.5,776.9 2169.6,777.6 2171.5,777.7 2171.6,777.1 2173.5,777.1 2173.6,778.0 2175.5,778.0 2175.6,777.3 2179.5,777.6 2179.6,778.1 2181.5,778.1 2181.6,777.9 2183.5,777.9 2183.6,777.1 2187.5,777.4 2187.6,778.3 2189.5,778.3 2189.5,777.3 2191.5,777.4 2191.6,777.7 2193.5,777.8 2193.6,778.7 2195.5,778.7 2195.5,777.5 2197.5,777.6 2197.6,777.8 2203.5,778.2 2203.6,778.7 2206.0,778.8 2206.0,780.6 2203.6,780.5 2203.5,780.1 2201.6,780.1 2201.5,780.8 2197.6,780.8 2197.5,779.8 2195.6,779.9 2195.5,780.9 2193.6,780.9 2193.5,780.5 2189.6,780.5 2189.5,780.1 2183.6,780.4 2183.5,780.8 2179.6,780.7 2179.5,780.1 2175.6,780.1 2175.5,780.5 2169.6,780.1 2169.5,780.8 2167.6,780.8 2167.5,780.2 2165.6,780.2 2165.5,780.7 2163.5,780.8 2157.6,780.6 2157.5,780.8 2155.6,780.8 2155.5,780.2 2151.6,780.1 2151.5,780.7 2149.6,780.7 2149.5,780.1 2147.6,780.1 2147.5,780.5 2143.6,780.2 2143.5,780.9 2141.6,780.9 2141.5,780.3 2139.6,780.3 2139.5,780.7 2135.6,780.8 2135.5,780.1 2131.6,780.0 2131.5,780.7 2127.6,780.9 2127.5,780.0 2125.6,780.0 2125.5,780.9 2123.6,780.9 2123.5,780.4 2119.6,780.2 2113.6,780.6 2113.5,781.1 2111.6,781.1 2111.5,780.9 2109.6,780.9 2109.5,780.0 2107.6,780.0 2107.5,780.9 2105.6,780.9 2105.5,780.4 2103.6,780.4 2103.5,780.2 2099.6,780.2 2099.5,780.6 2095.6,780.3 2095.5,781.1 2093.5,781.1 2093.5,780.0 2091.6,780.0 2089.6,780.1 2089.5,780.8 2087.6,780.8 2087.5,780.3 2083.6,780.5 2083.5,780.1 2079.6,780.1 2079.5,780.4 2077.6,780.4 2077.5,780.7 2075.6,780.7 2075.5,780.2 2073.6,780.2 2073.5,780.7 2069.6,780.7 2069.5,780.9 2067.6,780.9 2067.5,780.6 2065.6,780.6 2063.6,780.7 2063.5,781.0 2061.6,781.0 2061.5,780.4 2059.6,780.4 2059.5,781.0 2057.6,781.0 2057.5,780.0 2055.6,780.0 2055.5,780.9 2053.6,780.9 2053.5,780.7 2049.6,780.9 2049.5,780.2 2045.6,780.1 2045.5,780.4 2043.6,780.4 2043.5,780.7 2035.6,780.6 2035.5,780.8 2033.6,780.8 2033.5,781.0 2031.6,781.0 2031.5,780.5 2029.6,780.5 2029.5,780.3 2027.6,780.3 2027.5,780.1 2023.6,780.1 2023.5,780.9 2021.6,780.9 2021.5,780.2 2017.6,780.4 2017.5,780.9 2015.6,780.9 2011.6,780.6 2011.5,780.3 2009.6,780.3 2009.5,780.0 2007.5,780.0 2007.5,781.0 2005.6,781.0 2005.5,780.3 1999.6,780.3 1999.5,780.0 1997.6,780.0 1997.5,780.9 1995.6,780.9 1995.5,780.3 1993.6,780.3 1993.5,780.9 1989.6,780.6 1987.6,780.7 1987.5,781.1 1985.6,781.1 1985.5,780.6 1983.6,780.6 1983.5,780.3 1981.6,780.3 1981.5,780.9 1979.6,780.9 1979.5,780.5 1977.6,780.5 1977.5,781.0 1973.6,780.7 1973.5,781.0 1969.6,781.1 1969.5,780.7 1965.6,780.8 1965.5,780.5 1963.6,780.5 1963.5,780.1 1961.6,780.1 1961.5,780.4 1959.6,780.4 1959.5,780.2 1955.6,780.3 1955.5,780.5 1953.6,780.5 1953.5,780.2 1951.6,780.2 1951.5,780.5 1947.6,780.4 1945.6,780.6 1945.5,781.0 1943.5,781.0 1939.6,780.9 1939.5,780.3 1937.5,780.2 1935.6,780.2 1935.5,780.8 1931.6,780.8 1931.5,780.2 1929.6,780.2 1929.5,780.5 1925.6,780.6 1925.5,780.3 1923.6,780.3 1923.5,780.8 1921.6,780.8 1921.5,780.2 1917.6,780.1 1917.5,781.0 1915.6,781.0 1915.5,780.5 1913.6,780.5 1913.5,781.0 1911.6,781.0 1909.6,780.9 1909.5,780.4 1903.6,780.8 1903.5,780.3 1901.6,780.3 1901.5,781.0 1897.6,781.0 1897.5,780.7 1893.6,780.6 1893.5,780.3 1891.5,780.3 1889.6,780.3 1889.5,780.9 1887.6,780.9 1887.5,780.3 1885.6,780.3 1885.5,780.9 1883.6,780.9 1883.5,780.5 1879.6,780.3 1879.5,780.0 1877.6,780.0 1877.5,780.9 1875.6,780.9 1875.5,780.5 1873.6,780.5 1873.5,780.3 1871.6,780.3 1871.5,780.8 1869.6,780.8 1869.5,780.5 1867.6,780.5 1867.5,780.8 1865.6,780.8 1865.5,780.1 1863.6,780.1 1863.5,781.0 1861.6,781.0 1861.5,780.8 1855.6,781.0 1855.5,780.6 1851.6,780.6 1851.5,780.4 1845.6,780.7 1845.5,781.0 1843.6,781.0 1843.5,780.8 1841.6,780.8 1841.5,780.6 1839.6,780.6 1839.5,780.1 1837.6,780.1 1837.5,781.0 1835.6,781.0 1835.5,780.7 1833.6,780.7 1833.5,780.9 1829.6,780.8 1829.5,780.3 1827.6,780.3 1827.5,780.5 1825.6,780.5 1825.5,781.1 1823.6,781.1 1823.5,780.1 1821.6,780.1 1821.5,780.8 1819.6,780.8 1819.5,780.6 1817.6,780.6 1817.5,780.3 1817.0,780.3 1815.6,779.3 1815.5,780.0 1813.6,778.7 1813.5,778.3 1813.0,777.9 1809.6,779.0 1809.5,779.2 1805.6,779.3 1805.5,779.6 1803.6,779.7 1803.5,779.3 1799.6,779.4 1799.5,779.7 1795.6,779.8 1795.5,780.2 1793.6,780.3 1793.5,779.6 1789.6,780.0 1787.6,780.0 1787.5,779.8 1785.6,779.9 1785.5,780.3 1784.0,780.4 1780.0,778.4 1779.6,778.6 1779.5,779.2 1776.0,780.9 1775.6,780.9 1775.5,780.3 1773.6,780.3 1773.5,781.0 1771.6,781.0 1771.5,780.8 1767.6,780.9 1767.5,780.1 1765.6,780.1 1765.5,780.6 1763.6,780.6 1763.5,780.9 1759.6,780.8 1759.5,780.5 1757.6,780.5 1757.5,780.9 1755.6,780.9 1755.5,780.1 1753.6,780.1 1753.5,780.6 1751.6,780.6 1751.5,781.0 1749.6,781.0 1749.5,780.0 1747.5,780.0 1747.5,781.1 1745.5,781.1 1743.6,781.1 1743.5,780.1 1741.6,780.1 1741.5,780.6 1737.6,780.7 1733.6,780.4 1733.5,780.7 1731.5,780.8 1729.6,780.8 1729.5,780.4 1727.6,780.4 1727.5,781.0 1725.6,781.0 1725.5,780.5 1723.6,780.5 1723.5,780.9 1719.6,780.9 1719.5,780.4 1717.6,780.4 1717.5,780.9 1715.6,780.9 1715.5,780.5 1713.5,780.4 1711.6,780.4 1711.5,780.8 1707.6,781.0 1705.6,780.9 1705.5,780.3 1701.6,780.3 1701.5,781.0 1699.5,781.0 1699.5,780.0 1697.6,780.0 1697.5,780.9 1693.6,780.8 1693.5,780.5 1691.6,780.5 1691.5,780.1 1687.6,780.2 1687.5,780.6 1683.6,780.3 1683.5,781.1 1681.6,781.1 1681.5,780.8 1679.6,780.8 1679.5,781.1 1671.6,780.8 1671.5,780.1 1669.6,780.1 1669.5,780.9 1667.6,780.9 1667.5,780.3 1665.6,780.3 1665.5,781.0 1663.6,781.0 1663.5,780.6 1661.6,780.6 1661.5,780.4 1659.6,780.4 1659.5,781.1 1657.6,781.1 1657.5,780.4 1655.5,780.3 1653.6,780.3 1653.5,780.5 1651.6,780.5 1651.5,780.8 1649.6,780.8 1649.5,780.4 1647.6,780.4 1647.5,781.0 1643.6,781.0 1643.5,780.2 1633.6,780.3 1633.5,780.8 1631.6,780.8 1627.6,780.7 1627.5,780.2 1625.6,780.2 1625.5,780.9 1621.6,781.0 1621.5,780.1 1619.6,780.1 1619.5,780.9 1617.6,780.9 1617.5,780.3 1615.6,780.3 1615.5,780.0 1613.5,780.0 1613.5,781.1 1611.6,781.1 1611.5,780.5 1607.6,780.2 1607.5,781.1 1605.6,781.1 1605.5,780.4 1603.6,780.4 1603.5,780.0 1597.6,780.4 1597.5,781.0 1595.6,781.0 1595.5,780.3 1591.6,780.6 1591.5,780.3 1589.6,780.3 1589.5,780.7 1585.6,781.0 1585.5,780.1 1581.6,780.4 1581.5,781.0 1577.6,781.0 1577.5,780.4 1573.6,780.7 1573.5,781.0 1569.6,780.9 1569.5,780.4 1567.6,780.4 1567.5,780.9 1563.6,780.9 1563.5,780.4 1561.6,780.4 1561.5,780.8 1557.6,781.0 1557.5,780.1 1555.6,780.1 1555.5,780.5 1553.6,780.5 1553.5,780.0 1547.6,780.4 1547.5,780.0 1545.5,780.0 1545.5,781.1 1543.6,781.1 1543.5,780.1 1541.6,780.1 1541.5,780.5 1539.6,780.5 1539.5,780.0 1535.6,780.3 1535.5,780.9 1531.5,781.0 1527.6,781.0 1527.5,780.4 1525.6,780.4 1525.5,780.1 1523.6,780.1 1523.5,781.0 1521.6,781.0 1521.5,780.1 1519.6,780.1 1519.5,780.7 1515.6,780.4 1515.5,781.0 1513.6,781.0 1513.5,780.2 1511.6,780.2 1511.5,780.6 1507.6,780.6 1507.5,780.1 1503.6,779.9 1503.5,780.9 1501.6,780.9 1501.5,780.1 1499.6,780.1 1499.5,780.3 1493.6,780.2 1493.5,780.7 1489.6,780.8 1489.5,780.5 1487.6,780.4 1487.5,780.3 1483.5,779.9 1477.6,780.2 1477.5,779.8 1473.6,779.7 1473.5,780.4 1471.6,780.4 1471.5,779.8 1466.0,779.8 1463.0,775.9 1455.0,773.5 1453.6,774.1 1453.5,774.5 1451.6,775.2 1451.5,774.9 1447.5,776.5 1445.6,776.9 1445.5,776.4 1443.6,776.7 1443.5,776.9 1441.6,777.3 1441.5,778.0 1437.8,778.6 1437.6,778.6 1437.5,778.0 1435.6,777.9 1435.5,778.6 1433.6,778.5 1433.5,777.7 1431.6,777.6 1431.5,778.2 1429.6,778.1 1429.5,777.6 1427.6,777.5 1427.5,778.2 1425.6,778.1 1425.5,777.3 1423.6,777.2 1423.5,777.7 1421.6,777.6 1421.5,777.4 1419.6,777.3 1419.5,776.9 1417.6,776.8 1417.5,777.0 1415.6,776.9 1415.5,777.7 1413.6,777.6 1413.5,776.8 1409.6,776.6 1409.5,776.3 1407.6,776.2 1407.5,777.1 1405.6,777.0 1405.5,776.6 1403.5,776.4 1401.6,776.3 1401.5,776.6 1399.6,776.5 1399.5,776.3 1398.8,776.3 1397.6,775.3 1397.5,774.9 1393.6,771.5 1393.5,772.2 1385.6,772.2 1385.5,771.7 1385.2,771.7 1382.5,763.5 1381.0,767.8 1377.6,772.6 1377.5,773.6 1373.6,779.1 1373.5,778.3 1372.6,779.6 1371.6,779.6 1371.5,779.9 1367.6,780.1 1367.5,779.8 1365.6,779.8 1365.5,780.6 1363.5,780.6 1363.5,779.5 1359.6,779.7 1359.5,780.0 1357.6,780.0 1357.5,779.5 1355.6,779.5 1355.5,780.0 1353.6,780.0 1353.5,780.3 1351.6,779.2 1351.5,778.6 1347.3,776.0 1345.0,769.1 1343.1,774.1 1339.6,777.9 1337.6,779.8 1337.5,780.1 1335.6,780.1 1335.5,780.5 1333.6,780.5 1333.5,779.6 1331.6,779.6 1331.5,780.3 1325.6,780.3 1325.5,779.8 1324.2,779.8 1323.0,773.8 1319.6,773.6 1318.0,773.7 1316.8,779.9 1315.6,779.9 1315.5,780.1 1313.6,780.1 1313.5,779.7 1311.6,779.7 1311.5,780.0 1309.6,780.0 1309.5,779.8 1304.0,779.5 1303.6,778.6 1303.5,779.3 1302.5,776.9 1301.0,779.2 1299.6,779.4 1299.5,778.8 1297.6,779.0 1297.5,779.8 1291.6,780.3 1291.5,779.6 1289.6,779.8 1289.5,780.3 1288.0,780.4 1286.0,776.1 1284.0,779.8 1281.6,780.1 1281.5,780.6 1280.0,780.8 1279.6,780.8 1279.5,780.2 1277.6,780.2 1277.5,780.8 1271.5,781.0 1265.6,780.8 1265.5,780.5 1261.6,780.6 1261.5,780.9 1259.6,780.9 1259.5,780.3 1257.6,780.3 1257.5,780.6 1253.6,780.7 1253.5,780.5 1251.5,780.4 1241.6,780.5 1241.5,780.2 1239.6,780.2 1239.5,780.5 1237.5,780.5 1231.6,780.3 1231.5,780.7 1229.6,780.7 1229.5,781.0 1227.5,781.1 1225.6,781.1 1225.5,780.4 1223.6,780.4 1223.5,780.8 1215.6,781.2 1215.5,780.4 1213.6,780.4 1213.5,780.2 1211.6,780.2 1211.5,781.0 1209.6,781.0 1209.5,780.5 1205.6,780.5 1205.5,780.3 1203.6,780.3 1203.5,780.5 1201.6,780.5 1201.5,781.1 1199.6,781.1 1199.5,780.2 1197.6,780.2 1197.5,780.6 1193.6,780.5 1193.5,781.0 1189.6,781.0 1189.5,781.3 1183.6,781.3 1183.5,780.8 1177.5,780.4 1175.6,780.4 1175.5,781.2 1171.6,781.1 1171.5,780.6 1167.6,780.8 1167.5,780.6 1165.6,780.6 1165.5,780.8 1163.6,780.8 1163.5,781.2 1161.6,781.2 1161.5,780.8 1159.6,780.8 1159.5,781.3 1153.6,781.3 1153.5,781.0 1151.6,781.1 1151.5,780.7 1149.6,780.7 1149.5,781.3 1147.6,781.3 1147.5,780.4 1145.6,780.4 1145.5,780.7 1143.6,780.7 1143.5,781.3 1139.6,781.3 1139.5,780.6 1137.6,780.6 1137.5,781.0 1133.6,780.7 1133.5,780.9 1129.6,781.0 1129.5,781.3 1127.6,781.3 1127.5,780.5 1125.5,780.4 1123.6,780.4 1123.5,781.3 1121.6,781.3 1121.5,780.8 1115.6,780.9 1115.5,780.6 1111.5,780.5 1109.6,780.5 1109.5,780.7 1105.6,780.5 1105.5,781.0 1101.6,781.2 1101.5,781.0 1099.6,781.0 1099.5,781.5 1097.6,781.5 1097.5,780.7 1095.6,780.7 1095.5,781.0 1091.6,781.2 1087.6,780.9 1087.5,780.6 1085.6,780.6 1085.5,781.2 1081.6,781.4 1081.5,780.9 1079.6,780.9 1079.5,780.6 1077.5,780.6 1077.5,781.6 1075.6,781.6 1075.5,781.2 1071.6,781.5 1071.5,780.7 1069.5,780.5 1063.6,780.9 1063.5,781.5 1059.6,781.3 1059.5,781.0 1055.6,781.0 1055.5,781.2 1053.6,781.2 1053.5,781.6 1049.6,781.5 1049.5,780.9 1045.6,780.6 1045.5,781.4 1043.6,781.4 1043.5,781.8 1039.6,781.5 1039.5,781.0 1035.6,781.0 1033.5,780.8 1031.6,780.8 1031.5,781.5 1025.6,781.4 1025.5,781.2 1023.6,781.2 1023.5,781.0 1021.6,781.0 1021.5,780.8 1019.6,780.8 1019.5,781.5 1017.6,781.5 1017.5,781.2 1015.5,781.0 1013.6,781.0 1013.5,781.2 1007.6,781.0 1007.5,781.5 1005.6,781.5 1005.5,781.6 1001.6,781.5 1001.5,781.8 999.6,781.8 999.5,781.0 993.6,780.8 991.6,781.0 991.5,781.2 989.6,781.2 989.5,780.8 987.6,780.8 987.5,781.6 985.6,781.6 985.5,781.8 983.6,781.8 983.5,781.4 981.6,781.5 981.5,781.2 975.6,781.2 975.5,781.6 973.6,781.6 973.5,781.0 971.6,781.0 971.5,781.5 969.6,781.5 969.5,780.7 967.6,780.7 967.5,781.2 965.6,781.2 965.5,781.4 963.6,781.4 963.5,780.8 957.6,781.1 957.5,781.8 955.6,781.8 955.5,780.8 951.6,780.9 951.5,781.3 949.6,781.3 949.5,780.9 947.6,780.9 947.5,781.5 945.6,781.5 945.5,781.8 943.6,781.8 943.5,781.3 941.6,781.3 941.5,781.7 939.6,781.7 939.5,781.2 935.6,781.1 935.5,780.8 929.6,780.9 929.5,781.2 927.6,781.2 927.5,781.4 925.6,781.4 925.5,781.7 923.5,781.8 921.6,781.8 921.5,780.9 919.6,780.9 919.5,781.8 917.6,781.8 917.5,781.0 915.6,781.0 913.6,781.1 913.5,781.8 911.6,781.8 911.5,781.1 907.5,780.9 905.6,780.9 905.5,781.3 899.6,781.2 899.5,781.6 897.6,781.6 897.5,781.3 895.6,781.3 895.5,781.7 893.6,781.7 891.6,781.6 891.5,780.8 889.6,780.8 889.5,781.8 887.6,781.8 887.5,781.2 885.6,781.2 885.5,780.8 883.6,780.8 883.5,781.3 881.6,781.3 881.5,781.0 879.6,781.0 879.5,781.8 877.6,781.8 877.5,781.5 871.6,781.7 871.5,781.2 865.6,781.3 865.5,780.9 859.6,781.1 859.5,781.3 857.6,781.3 857.5,781.5 855.6,781.5 855.5,781.1 853.6,781.1 853.5,781.7 843.6,781.7 843.5,781.0 841.6,781.0 841.5,781.5 835.6,781.8 831.6,781.6 831.5,781.0 827.6,781.3 827.5,780.9 823.6,781.0 823.5,781.6 821.6,781.6 821.5,781.2 817.6,781.0 817.5,781.3 815.6,781.3 815.5,781.5 811.6,781.5 811.5,781.0 809.6,781.0 809.5,781.6 807.6,781.6 807.5,781.3 803.6,781.5 803.5,780.8 801.6,780.8 801.5,781.2 797.6,781.1 797.5,781.8 795.6,781.8 795.5,781.5 793.6,781.5 793.5,781.2 789.6,781.0 789.5,781.5 785.6,781.6 785.5,781.9 779.6,781.4 779.5,781.9 777.6,781.9 777.5,781.7 775.6,781.7 775.5,781.1 773.6,781.1 773.5,780.9 771.6,780.9 771.5,781.6 769.5,781.7 767.6,781.7 767.5,781.1 761.6,781.4 761.5,780.9 759.6,780.9 759.5,781.7 757.6,781.7 757.5,781.2 755.6,781.2 755.5,781.9 753.6,781.9 753.5,781.6 751.6,781.6 751.5,781.1 747.6,781.1 747.5,780.9 745.6,780.9 745.5,781.3 739.6,780.9 739.5,781.8 737.6,781.8 737.5,780.9 735.6,780.9 735.5,781.5 733.6,781.5 733.5,780.9 731.6,780.9 731.5,781.2 729.6,781.2 729.5,781.8 727.6,781.8 727.5,781.5 725.6,781.5 725.5,780.9 723.6,780.9 723.5,781.2 719.6,781.0 719.5,781.3 717.6,781.3 717.5,780.8 715.6,780.8 715.5,781.4 709.6,781.5 709.5,781.2 707.6,781.2 707.5,781.5 705.6,781.5 705.5,781.2 703.6,781.2 703.5,781.5 697.6,781.6 697.5,781.4 691.6,781.2 689.6,781.2 689.5,781.6 687.6,781.6 687.5,781.1 685.6,781.1 685.5,781.7 683.6,781.7 683.5,780.9 681.6,780.9 681.5,781.8 679.5,781.9 677.6,781.9 677.5,781.5 673.6,781.5 673.5,781.0 669.6,781.3 669.5,781.7 667.6,781.7 667.5,781.4 663.6,781.7 663.5,781.2 661.6,781.2 661.5,781.4 659.6,781.4 659.5,781.6 653.6,781.7 653.5,781.0 651.6,781.0 651.5,781.7 649.6,781.7 649.5,781.3 647.6,781.3 647.5,781.7 641.6,781.8 641.5,781.0 639.6,781.0 637.6,781.2 637.5,781.7 631.6,781.3 631.5,781.8 629.6,781.8 629.5,781.4 627.6,781.4 627.5,782.0 625.6,782.0 625.5,781.7 623.6,781.7 623.5,781.9 619.6,781.8 619.5,782.1 617.6,782.1 617.5,781.2 615.6,781.2 615.5,782.1 613.6,782.1 613.5,781.8 611.6,781.8 611.5,781.5 607.6,781.7 607.5,781.5 605.6,781.5 605.5,782.1 603.6,782.1 603.5,781.8 601.6,781.8 601.5,781.5 599.6,781.5 599.5,782.0 595.6,782.0 595.5,781.4 591.6,781.6 591.5,781.3 589.6,781.3 585.6,781.4 585.5,781.7 577.6,781.7 577.5,781.9 575.6,781.9 575.5,781.6 573.6,781.6 573.5,781.9 571.6,781.9 571.5,782.3 569.6,782.3 569.5,781.8 563.6,781.7 563.5,781.4 561.6,781.4 561.5,782.0 559.6,782.1 559.5,781.2 557.5,781.2 557.5,782.3 553.6,782.0 553.5,781.3 549.6,781.6 549.5,782.0 547.6,782.0 547.5,782.3 545.6,782.3 545.5,782.0 537.6,781.5 537.5,782.3 535.6,782.3 535.5,781.3 533.6,781.3 533.5,781.9 531.6,781.9 531.5,781.4 529.6,781.4 529.5,782.3 527.6,782.3 527.5,781.6 525.6,781.6 525.5,781.3 523.6,781.4 523.5,782.0 517.6,782.1 517.5,781.9 515.6,781.9 515.5,781.4 513.6,781.4 513.5,781.9 511.6,781.9 511.5,781.4 507.6,781.4 507.5,782.2 501.6,782.0 501.5,782.3 499.6,782.4 499.5,781.4 497.6,781.4 497.5,781.6 495.6,781.6 495.5,782.4 493.6,782.4 493.5,781.5 491.6,781.5 491.5,781.8 487.6,781.8 487.5,782.4 485.5,782.5 483.6,782.5 483.5,781.7 481.6,781.7 481.5,782.5 479.6,782.5 479.5,782.0 477.6,782.0 475.6,782.1 475.5,782.5 473.6,782.5 473.5,781.9 471.6,781.9 471.5,781.6 469.6,781.6 469.5,782.3 467.6,782.3 467.5,781.6 463.6,781.9 463.5,782.4 457.6,782.3 457.5,782.6 453.6,782.5 453.5,782.3 451.6,782.3 451.5,781.6 449.6,781.6 449.5,782.4 445.6,782.6 445.5,782.0 443.6,782.0 443.5,781.5 439.6,781.8 439.5,782.6 433.6,782.6 433.5,781.9 431.6,781.9 431.5,782.4 429.6,782.4 429.5,781.7 423.6,781.7 423.5,782.6 421.6,782.6 421.5,781.9 417.6,782.2 417.5,781.9 413.6,782.1 413.5,782.6 411.6,782.6 411.5,782.2 409.6,782.2 409.5,781.7 407.6,781.7 407.5,782.7 405.6,782.7 405.5,782.2 401.6,782.2 401.5,781.8 399.6,781.8 399.5,782.5 395.6,782.7 395.5,782.4 393.6,782.4 393.5,782.1 391.6,782.1 391.5,782.0 387.6,782.2 387.5,781.8 385.6,781.8 385.5,782.2 383.6,782.2 383.5,782.7 381.6,782.7 381.5,781.9 379.6,781.9 379.5,782.0 377.6,782.1 377.5,782.7 373.6,782.8 373.5,781.8 371.6,781.8 371.5,782.6 369.6,782.6 369.5,781.8 367.6,781.8 367.5,782.3 363.6,782.4 363.5,782.7 361.6,782.7 361.5,782.1 359.6,782.1 359.5,782.7 357.6,782.7 357.5,781.9 355.6,781.9 355.5,782.1 353.6,782.1 353.5,782.8 351.6,782.9 351.5,782.3 349.6,782.3 349.5,782.7 347.6,782.7 347.5,782.3 345.6,782.3 345.5,782.6 341.6,782.8 341.5,782.5 337.5,782.2 335.6,782.2 335.5,782.9 333.6,782.9 333.5,782.5 325.6,782.3 325.5,781.9 323.6,781.9 323.5,782.5 321.6,782.5 321.5,782.8 319.6,782.8 319.5,782.3 317.6,782.3 317.5,781.9 313.6,782.1 313.5,782.6 309.6,782.7 309.5,782.4 307.6,782.4 305.6,782.4 305.5,782.7 303.6,782.7 303.5,782.2 297.5,781.9 297.5,782.9 295.6,782.9 295.5,782.5 291.6,782.5 291.5,782.2 287.5,782.1 285.6,782.1 285.5,782.6 283.6,782.6 283.5,781.9 281.6,781.9 281.5,782.8 275.6,782.8 275.5,782.5 273.6,782.5 273.5,782.8 271.6,782.8 271.5,782.0 269.6,782.0 269.5,782.7 267.6,782.7 267.5,782.4 265.6,782.4 265.5,783.0 263.6,783.0 263.5,782.5 261.6,782.5 261.5,781.9 259.6,781.9 259.5,782.8 255.6,782.7 255.5,782.5 253.6,782.5 253.5,782.2 249.6,782.5 249.5,782.0 247.6,782.0 247.5,782.4 245.6,782.4 245.5,782.7 243.6,782.7 243.5,782.0 239.6,782.0 239.5,782.9 237.6,782.9 237.5,782.2 235.6,782.2 235.5,782.8 233.6,782.8 233.5,782.2 231.6,782.2 231.5,782.6 227.6,782.9 227.5,782.0 225.6,782.0 225.5,783.0 223.6,783.0 223.5,782.3 221.6,782.3 221.5,781.9 219.6,781.9 219.5,782.5 215.6,782.3 215.5,782.9 211.6,782.8 211.5,782.6 209.6,782.6 209.5,782.3 205.6,782.3 205.5,782.1 203.6,782.1 203.5,782.5 201.6,782.5 201.5,782.0 199.6,782.0 199.5,782.5 197.6,782.5 197.5,782.0 195.6,782.0 195.5,782.6 193.6,782.6 193.5,783.0 191.5,783.0 191.5,782.0 189.5,782.0 189.5,783.0 185.6,783.0 185.5,782.4 183.6,782.4 183.5,782.7 181.6,782.7 181.5,782.3 179.6,782.3 179.5,783.0 177.6,783.0 177.5,782.3 171.6,782.5 171.5,782.9 169.6,782.9 169.5,782.5 167.6,782.5 167.5,782.7 163.6,782.7 163.5,782.2 161.6,782.2 161.5,782.8 159.6,782.8 159.5,782.4 155.6,782.4 155.5,782.8 153.6,782.8 153.5,783.1 151.6,783.1 151.5,782.3 149.6,782.3 149.5,782.8 145.6,782.8 145.5,782.6 143.6,782.6 143.5,782.1 141.6,782.1 141.5,782.5 137.6,782.4 137.5,782.9 135.6,782.9 135.5,782.5 133.6,782.5 133.5,782.7 129.6,782.6 129.5,782.1 127.6,782.1 127.5,782.6 125.6,782.6 125.5,782.9 121.6,782.9 121.5,782.1 117.5,782.3Z" fill="#0000ff" stroke="#0000ff" stroke-width="0.5" stroke-linejoin="miter"/><path d="M909.5 728H910.3V772H909.5ZM917.6 741H918.6V773H917.6ZM1088.1 774H1088.7V779.4H1088.1ZM1102.8 775H1103.4V779.4H1102.8ZM1111.2 774H1111.8V779.4H1111.2ZM1122.8 767.8H1123.5V778.3H1122.8ZM1128.6 770H1129.3V778.3H1128.6ZM1136.5 765.7H1137.2V778.3H1136.5ZM1142.2 770H1142.9V778.3H1142.2ZM1149.1 771H1149.8V779.4H1149.1ZM1156.3 759.4H1157.1V779.4H1156.3ZM1163.7 760.5H1164.5V779.4H1163.7ZM1172.2 772H1172.8V778.3H1172.2ZM1179.6 770H1180.2V778.3H1179.6ZM1188 767.8H1188.6V779.4H1188Z" fill="#fff" fill-opacity="0.75"/>
<path d="M2218 778.3H2210" stroke="#777" stroke-width="5.8" fill="none"/>
<g font-size="48" fill="#000"><text x="199.0" y="854" text-anchor="middle">200</text><text x="487.9" y="854" text-anchor="middle">400</text><text x="776.9" y="854" text-anchor="middle">600</text><text x="1065.8" y="854" text-anchor="middle">800</text><text x="1354.7" y="854" text-anchor="middle">1000</text><text x="1643.6" y="854" text-anchor="middle">1200</text><text x="1932.6" y="854" text-anchor="middle">1400</text><text x="2221.5" y="854" text-anchor="middle">1600</text><text x="98.5" y="791.1" text-anchor="end">0</text><text x="98.5" y="663.3" text-anchor="end">1</text><text x="98.5" y="535.5" text-anchor="end">2</text><text x="98.5" y="407.8" text-anchor="end">3</text><text x="98.5" y="280.0" text-anchor="end">4</text><text x="98.5" y="152.2" text-anchor="end">5</text></g>
<text x="1167" y="931" text-anchor="middle" font-size="48" font-weight="bold">m/z</text>
<text transform="translate(54 419.2) rotate(-90)" text-anchor="middle" font-size="47" font-weight="bold">Intensity (A.U.)</text>
<g font-size="36" fill="#000"><text x="184.9" y="486.9" text-anchor="middle">176.689</text><text x="415.0" y="150.1" text-anchor="middle">350.978</text><text x="343.0" y="396.2" text-anchor="middle">315.871</text><text x="295.5" y="665.0" text-anchor="middle">284.062</text><text x="486.5" y="597.0" text-anchor="middle">382.981</text><text x="635.5" y="380.8" text-anchor="middle">502.098</text><text x="706.5" y="554.9" text-anchor="middle">537.106</text><text x="755.0" y="736.9" text-anchor="middle">573.117</text><text x="880.0" y="349.2" text-anchor="middle">672.180</text><text x="954.0" y="645.9" text-anchor="middle">705.168</text><text x="960.5" y="686.1" text-anchor="middle">710.187</text><text x="1155.0" y="721.0" text-anchor="middle">862.232</text></g>
<path d="M121 491.3H248.8M351 155.3H479M279 401.0H407M231.1 669.4H359.9M422 602.3H551M571.1 386.2H700M641.9 560.3H771M690.9 742.0H819.1M816 354.4H944M889.9 651.3H1018M896 691.4H1025M1091 726.3H1219" stroke="#000" stroke-width="2.8" fill="none"/>
<path d="M163.8 494V503M415.5 158V162M363.4 404V554M317 672.5V679M461.2 612V738M634 388.5V394M685.1 564V674M736.8 745V753M879.5 357V364M927.2 695.6V745M935.3 695.6V718M1155.5 728.5V735" stroke="#9a9a9a" stroke-width="1" stroke-dasharray="8 3 2 3" fill="none"/>
<g font-size="36" font-weight="bold" fill="#f00"><text x="179.5" y="443" text-anchor="middle">a</text><text x="411.7" y="106.3" text-anchor="middle">b</text><text x="630.4" y="337.2" text-anchor="middle">c</text><text x="874.6" y="304.7" text-anchor="middle">d</text></g>
</svg></body></html>
